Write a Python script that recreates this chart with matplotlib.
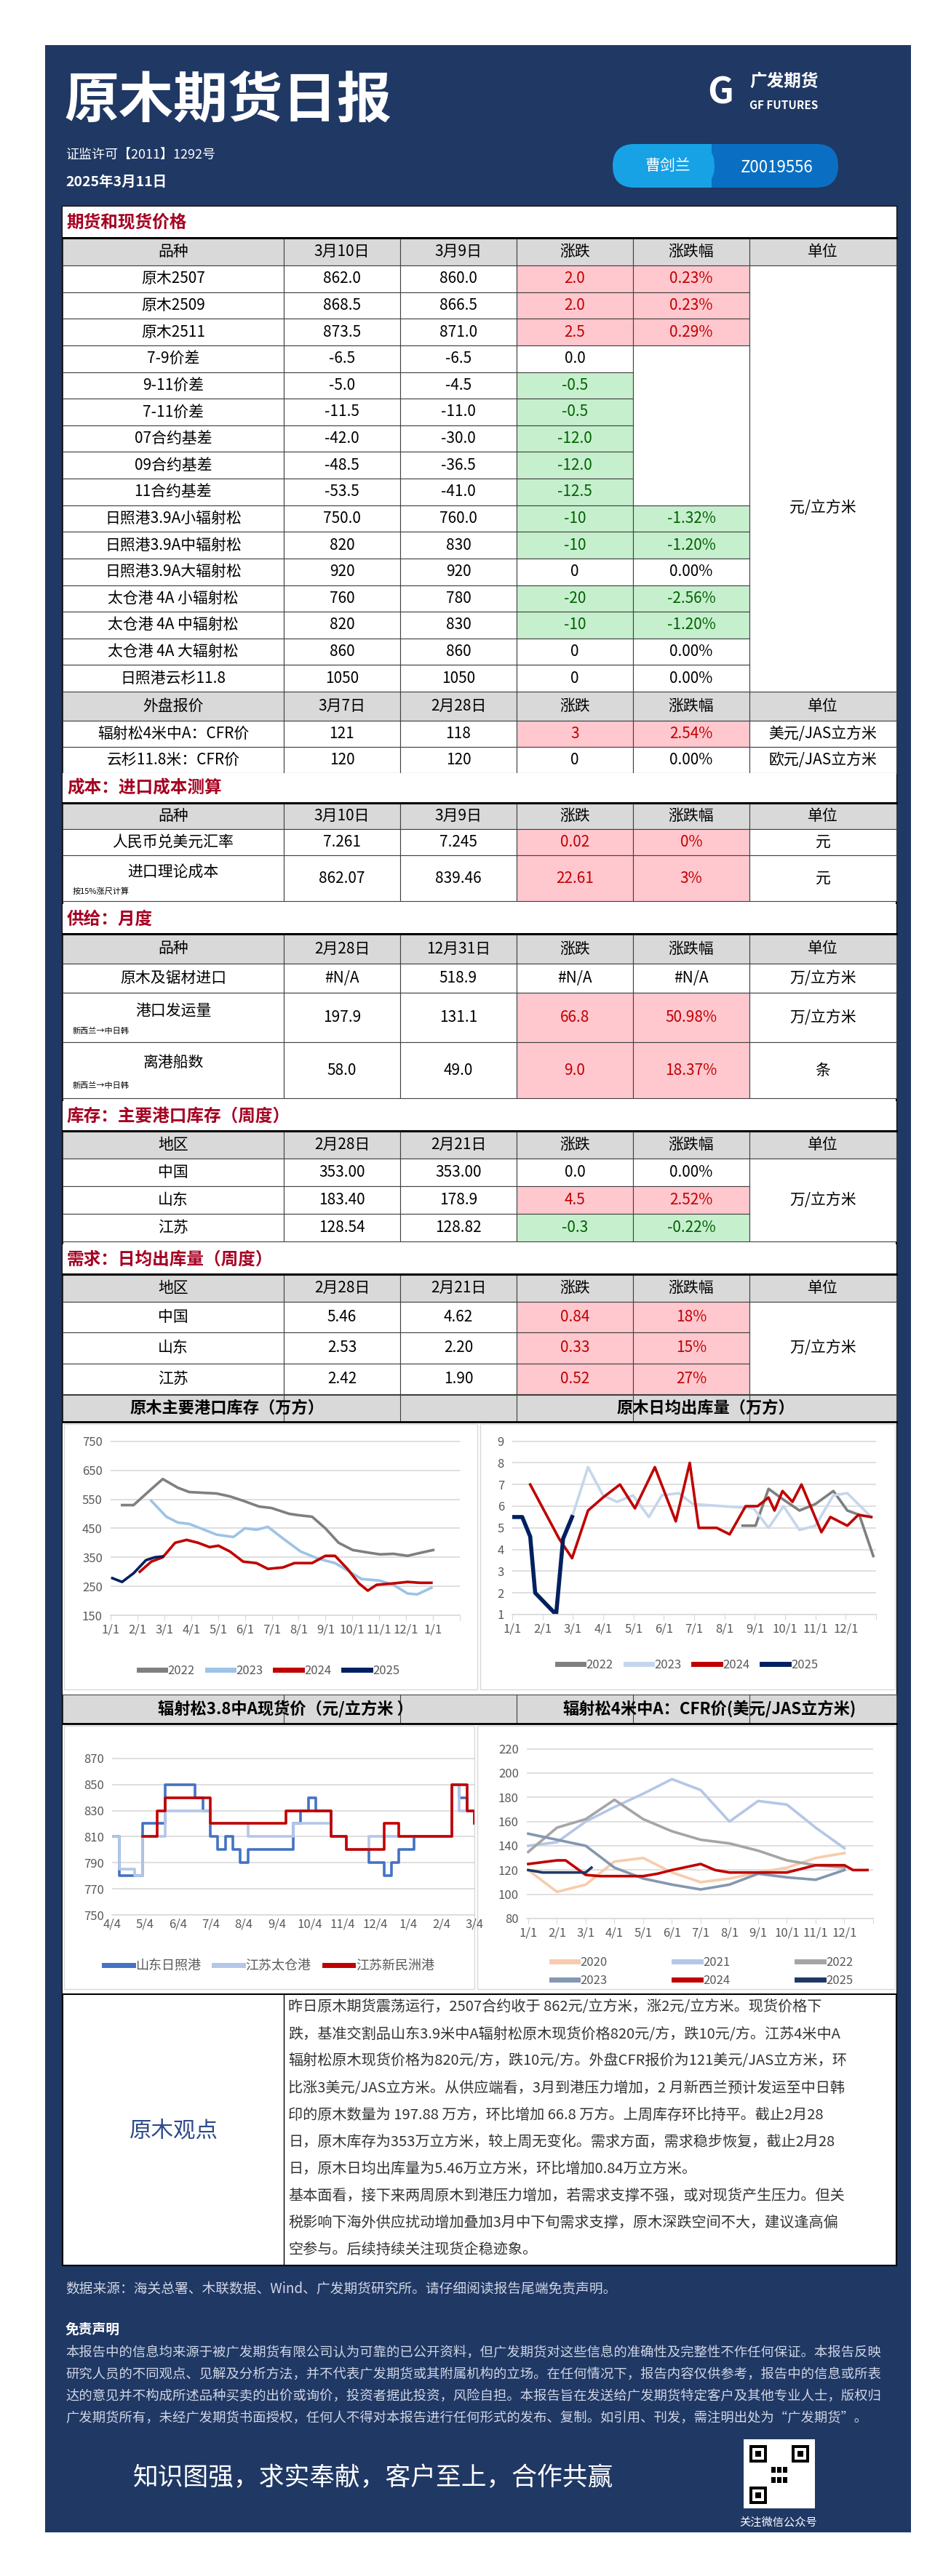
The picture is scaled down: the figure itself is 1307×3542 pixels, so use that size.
import matplotlib
matplotlib.use("Agg")
import matplotlib.pyplot as plt
from matplotlib.patches import Rectangle, FancyBboxPatch
from matplotlib.lines import Line2D

plt.rcParams['font.family'] = ['Noto Sans CJK SC', 'DejaVu Sans']

W, H = 1307, 3542
NAVY = "#203864"
PINK, PINKT = "#ffc7ce", "#c00000"
GREEN, GREENT = "#c6efce", "#006100"
GRAY = "#d9d9d9"
SEC = "#a50021"

# ---------------- data ----------------
fut_names = ["原木2507", "原木2509", "原木2511", "7-9价差", "9-11价差", "7-11价差", "07合约基差", "09合约基差",
             "11合约基差", "日照港3.9A小辐射松", "日照港3.9A中辐射松", "日照港3.9A大辐射松", "太仓港 4A 小辐射松",
             "太仓港 4A 中辐射松", "太仓港 4A 大辐射松", "日照港云杉11.8"]
fut_d1 = ["862.0", "868.5", "873.5", "-6.5", "-5.0", "-11.5", "-42.0", "-48.5", "-53.5", "750.0", "820", "920", "760", "820", "860", "1050"]
fut_d2 = ["860.0", "866.5", "871.0", "-6.5", "-4.5", "-11.0", "-30.0", "-36.5", "-41.0", "760.0", "830", "920", "780", "830", "860", "1050"]
fut_chg = ["2.0", "2.0", "2.5", "0.0", "-0.5", "-0.5", "-12.0", "-12.0", "-12.5", "-10", "-10", "0", "-20", "-10", "0", "0"]
fut_pct = ["0.23%", "0.23%", "0.29%", "", "", "", "", "", "", "-1.32%", "-1.20%", "0.00%", "-2.56%", "-1.20%", "0.00%", "0.00%"]

ext_names = ["辐射松4米中A：CFR价", "云杉11.8米：CFR价"]
ext_d1 = ["121", "120"]
ext_d2 = ["118", "120"]
ext_chg = ["3", "0"]
ext_pct = ["2.54%", "0.00%"]
ext_unit = ["美元/JAS立方米", "欧元/JAS立方米"]

cost_names = ["人民币兑美元汇率", "进口理论成本"]
cost_sub = ["", "按15%涨尺计算"]
cost_d1 = ["7.261", "862.07"]
cost_d2 = ["7.245", "839.46"]
cost_chg = ["0.02", "22.61"]
cost_pct = ["0%", "3%"]
cost_unit = ["元", "元"]

sup_names = ["原木及锯材进口", "港口发运量", "离港船数"]
sup_sub = ["", "新西兰→中日韩", "新西兰→中日韩"]
sup_d1 = ["#N/A", "197.9", "58.0"]
sup_d2 = ["518.9", "131.1", "49.0"]
sup_chg = ["#N/A", "66.8", "9.0"]
sup_pct = ["#N/A", "50.98%", "18.37%"]
sup_unit = ["万/立方米", "万/立方米", "条"]

regions = ["中国", "山东", "江苏"]
inv_d1 = ["353.00", "183.40", "128.54"]
inv_d2 = ["353.00", "178.9", "128.82"]
inv_chg = ["0.0", "4.5", "-0.3"]
inv_pct = ["0.00%", "2.52%", "-0.22%"]

dem_d1 = ["5.46", "2.53", "2.42"]
dem_d2 = ["4.62", "2.20", "1.90"]
dem_chg = ["0.84", "0.33", "0.52"]
dem_pct = ["18%", "15%", "27%"]

# chart 1: port inventory (day of year, value)
inv22_x = [13, 26, 46, 59, 76, 89, 120, 135, 150, 168, 182, 202, 213, 228, 243, 258, 274, 294, 305, 320, 336, 350, 365]
inv22_y = [530, 530, 585, 620, 590, 575, 570, 560, 545, 525, 520, 500, 495, 490, 450, 400, 375, 365, 360, 362, 355, 365, 375]
inv23_x = [46, 63, 76, 89, 106, 120, 139, 152, 165, 178, 195, 215, 235, 254, 268, 284, 304, 320, 336, 347, 363]
inv23_y = [545, 490, 470, 465, 445, 428, 420, 450, 445, 455, 415, 370, 345, 330, 305, 275, 270, 255, 225, 222, 245]
inv24_x = [33, 46, 59, 73, 86, 99, 112, 122, 135, 150, 165, 178, 195, 208, 228, 243, 254, 268, 281, 291, 301, 320, 336, 350, 363]
inv24_y = [300, 335, 350, 400, 410, 400, 385, 390, 370, 335, 330, 310, 315, 330, 330, 355, 355, 310, 260, 235, 255, 260, 265, 262, 262]
inv25_x = [2, 13, 26, 40, 50, 59]
inv25_y = [278, 265, 295, 340, 350, 353]

# chart 2: daily outbound
out22_x = [231, 244, 257, 272, 288, 304, 322, 336, 348, 362]
out22_y = [5.1, 5.1, 6.8, 6.3, 5.8, 6.1, 6.7, 5.8, 5.6, 3.7]
out23_x = [60, 76, 91, 105, 121, 137, 150, 167, 181, 211, 242, 257, 272, 288, 304, 322, 336, 360]
out23_y = [5.5, 7.8, 6.5, 6.2, 6.5, 5.5, 6.5, 6.6, 6.1, 6.0, 5.9, 5.0, 6.0, 4.9, 5.1, 6.5, 6.6, 5.5]
out24_x = [18, 47, 60, 76, 91, 108, 123, 143, 164, 178, 187, 205, 218, 234, 246, 257, 263, 271, 281, 290, 310, 319, 336, 347, 360]
out24_y = [7.0, 4.5, 3.6, 5.8, 6.4, 7.0, 5.9, 7.8, 5.3, 8.0, 5.0, 5.0, 4.7, 6.0, 6.0, 6.4, 5.8, 6.7, 6.2, 7.0, 4.8, 5.5, 5.1, 5.6, 5.5]
out25_x = [2, 10, 18, 23, 44, 51, 60]
out25_y = [5.5, 5.5, 4.6, 2.0, 1.0, 4.5, 5.5]

# chart 3: spot price weekly from 4/4
spot_sd = [810, 780, 780, 780, 820, 820, 820, 850, 850, 850, 850, 840, 830, 810, 800, 810, 800, 790, 800, 800, 800, 800, 800,
           800, 820, 830, 840, 830, 830, 810, 810, 800, 800, 800, 790, 790, 780, 790, 800, 800, 810, 810, 810, 810, 810, 850, 840, 830, 820]
spot_tc = [810, 785, 785, 780, 810, 810, 810, 830, 830, 830, 830, 830, 830, 820, 820, 820, 820, 820, 810, 810, 810, 810, 810,
           810, 820, 820, 820, 820, 820, 810, 810, 800, 800, 800, 810, 810, 810, 810, 810, 810, 810, 810, 810, 810, 810, 850, 830, 830, 820]
spot_xm = [None, None, None, None, 810, 810, 830, 840, 840, 840, 840, 840, 840, 820, 820, 820, 820, 820, 820, 820, 820, 820, 820,
           830, 830, 830, 830, 830, 830, 810, 810, 800, 800, 800, 800, 800, 820, 820, 810, 810, 810, 810, 810, 810, 810, 850, 850, 830, 820]
spot_labels = ["4/4", "5/4", "6/4", "7/4", "8/4", "9/4", "10/4", "11/4", "12/4", "1/4", "2/4", "3/4"]

# chart 4: CFR by month index
cfr20 = [120, 102, 108, 127, 130, 118, 110, 113, 118, 122, 130, 134]
cfr21 = [140, 143, 160, 172, 183, 195, 186, 160, 177, 174, 155, 138]
cfr22 = [135, 155, 162, 178, 162, 152, 145, 142, 136, 128, 124, 122]
cfr23 = [150, 145, 140, 122, 113, 108, 104, 108, 117, 114, 112, 120]
cfr24_x = [0, 1, 1.3, 2, 2.5, 3, 4, 4.5, 5, 6, 6.5, 7, 8, 8.5, 9, 10, 10.5, 11, 11.3, 11.8]
cfr24_y = [125, 128, 128, 116, 115, 115, 115, 117, 120, 125, 120, 118, 118, 118, 118, 124, 124, 124, 120, 120]
cfr25_x = [0, 0.5, 1, 1.5, 2, 2.2]
cfr25_y = [120, 118, 118, 118, 118, 122]

month_labels = ["1/1", "2/1", "3/1", "4/1", "5/1", "6/1", "7/1", "8/1", "9/1", "10/1", "11/1", "12/1"]

view_lines = [
    "昨日原木期货震荡运行，2507合约收于 862元/立方米，涨2元/立方米。现货价格下",
    "跌，基准交割品山东3.9米中A辐射松原木现货价格820元/方，跌10元/方。江苏4米中A",
    "辐射松原木现货价格为820元/方，跌10元/方。外盘CFR报价为121美元/JAS立方米，环",
    "比涨3美元/JAS立方米。从供应端看，3月到港压力增加，2 月新西兰预计发运至中日韩",
    "印的原木数量为 197.88 万方，环比增加 66.8 万方。上周库存环比持平。截止2月28",
    "日，原木库存为353万立方米，较上周无变化。需求方面，需求稳步恢复，截止2月28",
    "日，原木日均出库量为5.46万立方米，环比增加0.84万立方米。",
    "基本面看，接下来两周原木到港压力增加，若需求支撑不强，或对现货产生压力。但关",
    "税影响下海外供应扰动增加叠加3月中下旬需求支撑，原木深跌空间不大，建议逢高偏",
    "空参与。后续持续关注现货企稳迹象。",
]
disc_lines = [
    "本报告中的信息均来源于被广发期货有限公司认为可靠的已公开资料，但广发期货对这些信息的准确性及完整性不作任何保证。本报告反映",
    "研究人员的不同观点、见解及分析方法，并不代表广发期货或其附属机构的立场。在任何情况下，报告内容仅供参考，报告中的信息或所表",
    "达的意见并不构成所述品种买卖的出价或询价，投资者据此投资，风险自担。本报告旨在发送给广发期货特定客户及其他专业人士，版权归",
    "广发期货所有，未经广发期货书面授权，任何人不得对本报告进行任何形式的发布、复制。如引用、刊发，需注明出处为“广发期货”。",
]

# ---------------- canvas ----------------
fig = plt.figure(figsize=(W / 100, H / 100), dpi=100)
ax = fig.add_axes([0, 0, 1, 1])
ax.set_xlim(0, W)
ax.set_ylim(H, 0)
ax.axis("off")


def rect(x0, y0, x1, y1, fc="none", ec="none", lw=0, z=1):
    ax.add_patch(Rectangle((x0, y0), x1 - x0, y1 - y0, facecolor=fc, edgecolor=ec, linewidth=lw, zorder=z))


def txt(x, y, s, size=15, color="black", ha="center", weight="normal", va="center", z=5):
    ax.text(x, y, s, fontsize=size, color=color, ha=ha, va=va, weight=weight, zorder=z)


rect(62, 62, 1252, 3482, fc=NAVY)
txt(88, 138, "原木期货日报", size=54, color="white", ha="left", weight="bold")
txt(90, 214, "证监许可【2011】1292号", size=13, color="white", ha="left")
txt(90, 250, "2025年3月11日", size=14, color="white", ha="left", weight="bold")
txt(1030, 112, "广发期货", size=17, color="white", ha="left", weight="bold")
txt(1030, 145, "GF FUTURES", size=11, color="white", ha="left", weight="bold")
txt(990, 128, "G", size=36, color="white", ha="center", weight="bold")
ax.add_patch(FancyBboxPatch((862, 198), 290, 60, boxstyle="round,pad=0,rounding_size=30",
                            facecolor="#0a6fc2", edgecolor="none", zorder=2))
ax.add_patch(FancyBboxPatch((842, 198), 140, 60, boxstyle="round,pad=0,rounding_size=30",
                            facecolor="#17a2e6", edgecolor="none", zorder=3))
rect(950, 198, 978, 258, fc="#17a2e6", z=3)
txt(918, 228, "曹剑兰", size=15, color="white")
txt(1068, 230, "Z0019556", size=16, color="white")

# content white area
L, R = 86, 1232
rect(L, 284, R, 3115, fc="white", ec="black", lw=1.5)
cols = [L, 390, 550, 710, 870, 1030, R]
BORDER = "#404040"
TS = 15


def cell(c0, c1, y0, y1, s="", fc="white", color="black", size=TS, weight="normal", border=True):
    rect(cols[c0], y0, cols[c1], y1, fc=fc, ec=BORDER if border else "none", lw=0.8, z=2)
    if s:
        txt((cols[c0] + cols[c1]) / 2, (y0 + y1) / 2, s, size=size, color=color, weight=weight)


def section(y0, y1, s):
    rect(L, y0, R, y1, fc="white", z=2)
    ax.plot([L, R], [y1, y1], color="black", lw=2.2, zorder=6)
    txt(L + 6, (y0 + y1) / 2, s, size=17, color=SEC, ha="left", weight="bold")


def header(y0, y1, labels):
    for i, s in enumerate(labels):
        cell(i, i + 1, y0, y1, s, fc=GRAY, weight="medium", size=TS)


def colors(chg):
    try:
        v = float(chg)
    except ValueError:
        return "white", "black"
    if v > 0:
        return PINK, PINKT
    if v < 0:
        return GREEN, GREENT
    return "white", "black"


def datarow(y0, y1, name, d1, d2, chg, pct, unit=None, sub="", pct_cell=True):
    if sub:
        cell(0, 1, y0, y1)
        txt((cols[0] + cols[1]) / 2, y0 + (y1 - y0) * 0.36, name, size=TS)
        txt(cols[0] + 14, y0 + (y1 - y0) * 0.78, sub, size=8, ha="left")
    else:
        cell(0, 1, y0, y1, name)
    cell(1, 2, y0, y1, d1)
    cell(2, 3, y0, y1, d2)
    fc, tc = colors(chg)
    cell(3, 4, y0, y1, chg, fc=fc, color=tc)
    if pct_cell:
        if pct:
            cell(4, 5, y0, y1, pct, fc=fc, color=tc)
        else:
            cell(4, 5, y0, y1, border=False)
    if unit is not None:
        cell(5, 6, y0, y1, unit)


# section 1
section(284, 327, "期货和现货价格")
header(327, 365, ["品种", "3月10日", "3月9日", "涨跌", "涨跌幅", "单位"])
rh = (951 - 365) / len(fut_names)
for i in range(len(fut_names)):
    y0 = 365 + i * rh
    datarow(y0, y0 + rh, fut_names[i], fut_d1[i], fut_d2[i], fut_chg[i], fut_pct[i])
y_s0, y_s1 = 365 + 3 * rh, 365 + 9 * rh
rect(cols[4], y_s0, cols[5], y_s1, fc="white", ec=BORDER, lw=0.8, z=3)
rect(cols[5], 365, cols[6], 951, fc="white", ec=BORDER, lw=0.8, z=3)
txt((cols[5] + cols[6]) / 2, (365 + 951) / 2 + 40, "元/立方米", size=TS)

header(951, 991, ["外盘报价", "3月7日", "2月28日", "涨跌", "涨跌幅", "单位"])
for i in range(2):
    y0 = 991 + i * 36
    datarow(y0, y0 + 36, ext_names[i], ext_d1[i], ext_d2[i], ext_chg[i], ext_pct[i], unit=ext_unit[i])

# section 2
section(1063, 1104, "成本：进口成本测算")
header(1104, 1140, ["品种", "3月10日", "3月9日", "涨跌", "涨跌幅", "单位"])
cy = [(1140, 1176), (1176, 1239)]
for i in range(2):
    datarow(cy[i][0], cy[i][1], cost_names[i], cost_d1[i], cost_d2[i], cost_chg[i], cost_pct[i],
            unit=cost_unit[i], sub=cost_sub[i])

# section 3
section(1243, 1284, "供给：月度")
header(1284, 1325, ["品种", "2月28日", "12月31日", "涨跌", "涨跌幅", "单位"])
sy = [(1325, 1365), (1365, 1433), (1433, 1510)]
for i in range(3):
    datarow(sy[i][0], sy[i][1], sup_names[i], sup_d1[i], sup_d2[i], sup_chg[i], sup_pct[i],
            unit=sup_unit[i], sub=sup_sub[i])

# section 4
section(1514, 1555, "库存：主要港口库存（周度）")
header(1555, 1593, ["地区", "2月28日", "2月21日", "涨跌", "涨跌幅", "单位"])
for i in range(3):
    y0 = 1593 + i * 38
    datarow(y0, y0 + 38, regions[i], inv_d1[i], inv_d2[i], inv_chg[i], inv_pct[i])
rect(cols[5], 1593, cols[6], 1707, fc="white", ec=BORDER, lw=0.8, z=3)
txt((cols[5] + cols[6]) / 2, 1650, "万/立方米", size=TS)

# section 5
section(1711, 1752, "需求：日均出库量（周度）")
header(1752, 1790, ["地区", "2月28日", "2月21日", "涨跌", "涨跌幅", "单位"])
for i in range(3):
    y0 = 1790 + i * 42.3
    datarow(y0, y0 + 42.3, regions[i], dem_d1[i], dem_d2[i], dem_chg[i], dem_pct[i])
rect(cols[5], 1790, cols[6], 1917, fc="white", ec=BORDER, lw=0.8, z=3)
txt((cols[5] + cols[6]) / 2, 1853, "万/立方米", size=TS)

# chart title bars
for (y0, y1, t1, t2, x1, x2) in [(1918, 1955, "原木主要港口库存（万方）", "原木日均出库量（万方）", 312, 970),
                                  (2330, 2370, "辐射松3.8中A现货价（元/立方米 ）", "辐射松4米中A：CFR价(美元/JAS立方米)", 392, 975)]:
    rect(L, y0, R, y1, fc=GRAY, ec=BORDER, lw=0.8, z=2)
    for c in cols[1:-1]:
        ax.plot([c, c], [y0, y1], color=BORDER, lw=0.8, zorder=3)
    txt(x1, (y0 + y1) / 2, t1, size=16, weight="bold")
    txt(x2, (y0 + y1) / 2, t2, size=16, weight="bold")
    ax.plot([L, R], [y1, y1], color="black", lw=2, zorder=6)
rect(L, 1955, R, 2330, fc="white", z=2)
rect(L, 2370, R, 2742, fc="white", z=2)
rect(88, 1958, 656, 2323, fc="white", ec="#d9d9d9", lw=1, z=3)
rect(660, 1958, 1230, 2323, fc="white", ec="#d9d9d9", lw=1, z=3)
rect(88, 2373, 652, 2735, fc="white", ec="#d9d9d9", lw=1, z=3)
rect(656, 2373, 1230, 2735, fc="white", ec="#d9d9d9", lw=1, z=3)


def mkax(l, r, t, b):
    a = fig.add_axes([l / W, 1 - b / H, (r - l) / W, (b - t) / H])
    a.set_facecolor("none")
    for s in ["top", "right", "left"]:
        a.spines[s].set_visible(False)
    a.spines["bottom"].set_color("#d9d9d9")
    a.spines["bottom"].set_linewidth(1.2)
    a.grid(axis="y", color="#d9d9d9", lw=1.2)
    a.set_axisbelow(True)
    a.tick_params(axis="y", length=0, labelsize=12, labelcolor="#595959", pad=8)
    a.tick_params(axis="x", length=5, color="#d9d9d9", labelsize=12, labelcolor="#595959")
    return a


def legend(a, handles, labels, x, y, ncol, size=12, cs=1.0):
    a.legend(handles, labels, loc="center", bbox_to_anchor=(x / W, 1 - y / H), bbox_transform=fig.transFigure,
             ncol=ncol, frameon=False, fontsize=size, labelcolor="#595959", handlelength=2.2,
             columnspacing=cs, handletextpad=0.2)


LW = 2.6
mstep = 30.4
# chart 1
a1 = mkax(152, 632, 1981, 2221)
c1 = [("2022", inv22_x, inv22_y, "#7f7f7f"), ("2023", inv23_x, inv23_y, "#9dc3e6"),
      ("2024", inv24_x, inv24_y, "#c00000"), ("2025", inv25_x, inv25_y, "#002060")]
for lab, xs, ys, c in c1:
    a1.plot(xs, ys, color=c, lw=LW, label=lab)
a1.set_ylim(150, 752)
a1.set_yticks(range(150, 751, 100))
a1.set_xlim(0, 13 * mstep)
a1.set_xticks([k * mstep for k in range(14)])
a1.set_xticklabels(month_labels + ["1/1", ""])
legend(a1, [Line2D([], [], color=c, lw=5) for _, _, _, c in c1], [l for l, _, _, _ in c1], 370, 2297, 4)

# chart 2
a2 = mkax(704, 1204, 1981, 2220)
c2 = [("2022", out22_x, out22_y, "#7f7f7f"), ("2023", out23_x, out23_y, "#c5d6ec"),
      ("2024", out24_x, out24_y, "#c00000"), ("2025", out25_x, out25_y, "#002060")]
for lab, xs, ys, c in c2:
    a2.plot(xs, ys, color=c, lw=LW if lab != "2025" else 4)
a2.set_ylim(1, 9.02)
a2.set_yticks(range(1, 10))
a2.set_xlim(0, 12 * mstep)
a2.set_xticks([k * mstep for k in range(13)])
a2.set_xticklabels(month_labels + [""])
legend(a2, [Line2D([], [], color=c, lw=5) for _, _, _, c in c2], [l for l, _, _, _ in c2], 945, 2289, 4)

# chart 3
a3 = mkax(154, 652, 2416, 2633)
wk = list(range(len(spot_sd)))
c3 = [("山东日照港", spot_sd, "#4472c4"), ("江苏太仓港", spot_tc, "#b4c7e7"), ("江苏新民洲港", spot_xm, "#c00000")]
for lab, ys, c in c3:
    xs = [w for w, v in zip(wk, ys) if v is not None]
    vs = [v for v in ys if v is not None]
    a3.plot(xs, vs, color=c, lw=LW, drawstyle="steps-post")
a3.set_ylim(750, 871)
a3.set_yticks(range(750, 871, 20))
a3.set_xlim(0, 48)
a3.set_xticks([k * 48 / 11 for k in range(12)])
a3.set_xticklabels(spot_labels)
a3.tick_params(axis="x", length=0)
legend(a3, [Line2D([], [], color=c, lw=5) for _, _, c in c3], [l for l, _, _ in c3], 370, 2703, 3, size=13)

# chart 4
a4 = mkax(724, 1200, 2403, 2638)
mx = list(range(12))
c4 = [("2020", mx, cfr20, "#f8cbad"), ("2021", mx, cfr21, "#b4c7e7"), ("2022", mx, cfr22, "#a5a5a5"),
      ("2023", mx, cfr23, "#8497b0"), ("2024", cfr24_x, cfr24_y, "#c00000"), ("2025", cfr25_x, cfr25_y, "#203864")]
for lab, xs, ys, c in c4:
    a4.plot(xs, ys, color=c, lw=LW)
a4.set_ylim(80, 221)
a4.set_yticks(range(80, 221, 20))
a4.set_xlim(-0.05, 11.95)
a4.set_xticks(range(13))
a4.set_xticklabels(month_labels + [""])
order = [0, 3, 1, 4, 2, 5]
legend(a4, [Line2D([], [], color=c4[i][3], lw=5) for i in order], [c4[i][0] for i in order], 965, 2711, 3, cs=5.5)

# view box
rect(L, 2742, R, 3115, fc="white", ec="black", lw=1.5, z=2)
ax.plot([390, 390], [2742, 3115], color="black", lw=1, zorder=3)
txt(239, 2930, "原木观点", size=22, color="#2f4a8a")
for i, s in enumerate(view_lines):
    txt(396, 2760 + i * 37, s, size=14.5, color="#333333", ha="left")

# footer
txt(90, 3148, "数据来源：海关总署、木联数据、Wind、广发期货研究所。请仔细阅读报告尾端免责声明。", size=13.5,
    color="#d0d7e6", ha="left")
txt(90, 3203, "免责声明", size=13.5, color="white", ha="left", weight="bold")
for i, s in enumerate(disc_lines):
    txt(90, 3236 + i * 30, s, size=13.2, color="#d0d7e6", ha="left")
txt(183, 3408, "知识图强，求实奉献，客户至上，合作共赢", size=25, color="white", ha="left")
rect(1022, 3354, 1120, 3449, fc="white", z=3)
for (qx, qy) in [(1030, 3362), (1088, 3362), (1030, 3419)]:
    rect(qx, qy, qx + 24, qy + 24, fc="black", z=4)
    rect(qx + 4, qy + 4, qx + 20, qy + 20, fc="white", z=5)
    rect(qx + 8, qy + 8, qx + 16, qy + 16, fc="black", z=6)
for k in range(6):
    rect(1060 + (k % 3) * 8, 3392 + (k // 3) * 14, 1066 + (k % 3) * 8, 3400 + (k // 3) * 14, fc="black", z=4)
txt(1070, 3468, "关注微信公众号", size=11, color="white")

fig.savefig("out.png", dpi=100)
